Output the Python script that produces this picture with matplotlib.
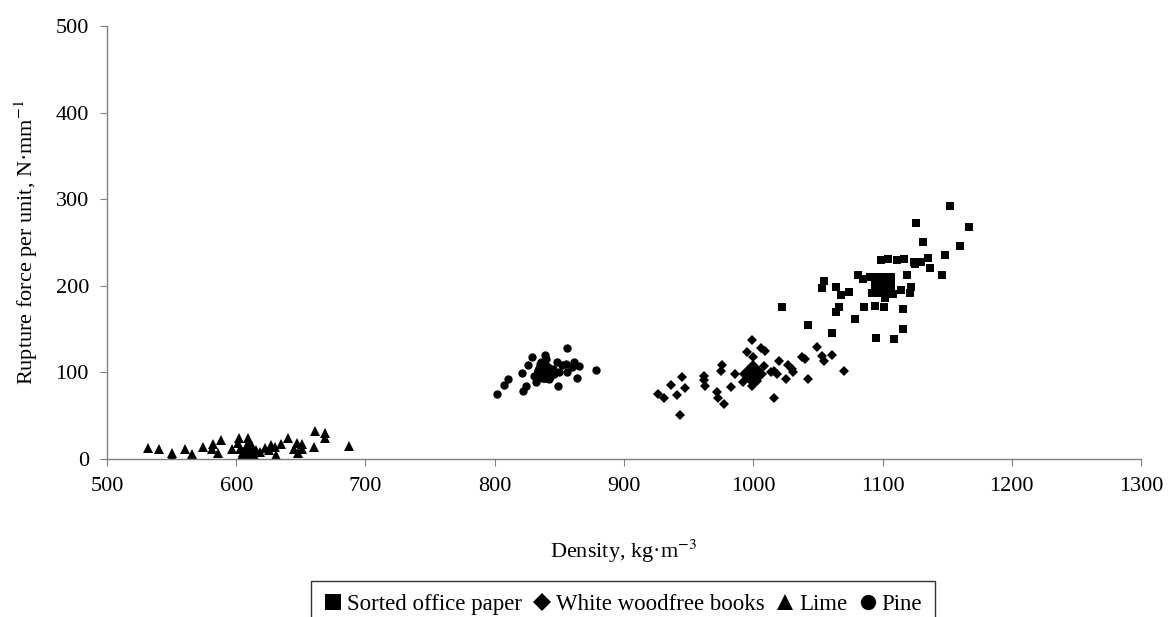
import matplotlib
matplotlib.use("Agg")
import matplotlib.pyplot as plt
from matplotlib.lines import Line2D

plt.rcParams['font.family'] = ['Liberation Serif', 'DejaVu Serif']
plt.rcParams['mathtext.fontset'] = 'stix'

# Sorted office paper (squares)
paper_x = [1152, 1126, 1167, 1131, 1160, 1148, 1099, 1104, 1111, 1117, 1124, 1130, 1135, 1137,
           1119, 1146, 1081, 1085, 1055, 1053, 1064, 1074, 1068, 1092, 1102, 1114, 1122, 1121,
           1022, 1066, 1064, 1086, 1094, 1101, 1116, 1079, 1042, 1116, 1061, 1095, 1109, 1125,
           1108, 1090, 1105]
paper_y = [292, 273, 268, 251, 246, 235, 230, 231, 230, 231, 227, 227, 232, 221,
           213, 212, 212, 208, 206, 197, 199, 193, 189, 192, 186, 195, 199, 192,
           176, 175, 170, 175, 177, 175, 173, 162, 155, 150, 145, 140, 138, 225,
           190, 210, 205]
paper_mean = (1100, 201)

# White woodfree books (diamonds)
books_x = [999, 995, 1006, 1009, 1000, 1049, 1061, 1053, 1055, 1038, 1040, 1020, 976, 975,
           1070, 1008, 1014, 1016, 1027, 1031, 1042, 1025, 986, 983, 962, 962, 963, 936,
           926, 931, 941, 947, 972, 973, 977, 1016, 943, 992, 999, 1003, 1018, 1030, 945]
books_y = [137, 124, 128, 125, 118, 129, 120, 119, 113, 118, 116, 113, 108, 102,
           102, 107, 100, 102, 108, 101, 92, 92, 98, 83, 96, 91, 84, 86,
           75, 70, 74, 82, 77, 70, 64, 70, 51, 89, 84, 90, 98, 104, 95]
books_mean = (1000, 98)

# Lime (triangles)
lime_x = [532, 540, 550, 550, 560, 566, 574, 582, 581, 586, 588, 597, 602, 601, 609, 605,
          612, 615, 622, 627, 631, 635, 640, 647, 651, 648, 651, 661, 669, 669, 660, 687,
          603, 618, 625, 630, 645, 607]
lime_y = [13, 12, 7, 3, 11, 6, 14, 17, 12, 7, 22, 12, 24, 19, 24, 8,
          15, 10, 13, 16, 5, 17, 24, 18, 17, 7, 12, 32, 30, 24, 14, 15,
          12, 8, 10, 14, 12, 5]
lime_mean = (609, 12)

# Pine (circles)
pine_x = [802, 807, 810, 821, 826, 829, 839, 822, 824, 832, 856, 861, 860, 865, 849, 864,
          878, 856, 846, 835, 840, 843, 837, 848, 852, 833, 842, 845, 830, 836, 850, 855]
pine_y = [75, 85, 92, 99, 108, 118, 120, 78, 84, 89, 128, 112, 106, 107, 84, 93,
          103, 100, 98, 110, 115, 95, 105, 112, 108, 98, 92, 104, 96, 112, 100, 110]
pine_mean = (838, 100)

labels = ["Sorted office paper", "White woodfree books", "Lime", "Pine"]
markers = ["s", "D", "^", "o"]

fig = plt.figure(figsize=(11.68, 6.17), dpi=100)
ax = fig.add_axes([0.0916, 0.2561, 0.8853, 0.7018])

series = [(paper_x, paper_y, paper_mean), (books_x, books_y, books_mean),
          (lime_x, lime_y, lime_mean), (pine_x, pine_y, pine_mean)]
small = {"s": 5.5, "D": 5.0, "^": 6.5, "o": 6.0}
big = {"s": 17, "D": 14, "^": 16, "o": 15}
for (xs, ys, mean), m in zip(series, markers):
    ax.plot(xs, ys, linestyle="none", marker=m, markersize=small[m],
            color="black", markeredgewidth=0)
    ax.plot([mean[0]], [mean[1]], linestyle="none", marker=m, markersize=big[m],
            color="black", markeredgewidth=0)

ax.set_xlim(500, 1300)
ax.set_ylim(0, 500)
ax.set_xticks(range(500, 1301, 100))
ax.set_yticks(range(0, 501, 100))
for s in ["top", "right"]:
    ax.spines[s].set_visible(False)
for s in ["left", "bottom"]:
    ax.spines[s].set_color("#808080")
    ax.spines[s].set_linewidth(1.0)
ax.tick_params(axis="both", direction="out", length=5, color="#808080",
               labelsize=16, pad=8)

ax.set_xlabel("Density, kg·m$^{-3}$", fontsize=16)
ax.xaxis.set_label_coords(0.5, -(551 - 459) / 433)
ax.xaxis.label.set_verticalalignment("center")
ax.set_ylabel("Rupture force per unit, N·mm$^{-1}$", fontsize=16)
ax.yaxis.set_label_coords((26 - 107) / 1034, 0.5)
ax.yaxis.label.set_verticalalignment("center")

handles = [Line2D([], [], linestyle="none", marker=m, color="black",
                  markersize=11 if m != "D" else 9, markeredgewidth=0) for m in markers]
leg = fig.legend(handles, labels, loc="upper center", bbox_to_anchor=(0.5334, 1 - 581 / 617),
                 ncol=4, frameon=True, fancybox=False, edgecolor="black",
                 fontsize=16.5, handlelength=0.8, handletextpad=0.2,
                 columnspacing=0.5, borderpad=0.55, borderaxespad=0)
leg.get_frame().set_linewidth(1.0)

fig.savefig("out.png", dpi=100)
